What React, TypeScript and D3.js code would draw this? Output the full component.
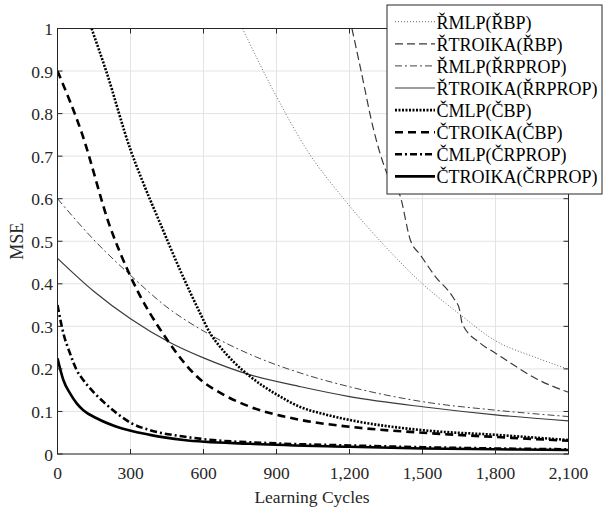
import React from 'react'
import * as d3 from 'd3'

// readings: [learning cycle, MSE]
const rMlpBp = [[760, 1], [900, 0.84], [1030, 0.71], [1176, 0.6], [1327, 0.5], [1500, 0.4], [1656, 0.327], [1800, 0.266], [1960, 0.228], [2100, 0.199]]
const rTroikaBp = [[1210, 1], [1244, 0.91], [1300, 0.76], [1350, 0.665], [1409, 0.605], [1450, 0.503], [1491, 0.468], [1553, 0.417], [1628, 0.366], [1652, 0.34], [1663, 0.307], [1738, 0.26], [1800, 0.237], [1875, 0.209], [1964, 0.178], [2100, 0.145]]
const rMlpRprop = [[0, 0.6], [150, 0.503], [300, 0.42], [450, 0.345], [600, 0.289], [800, 0.232], [1000, 0.19], [1200, 0.158], [1500, 0.123], [1800, 0.103], [2100, 0.088]]
const rTroikaRprop = [[0, 0.46], [150, 0.382], [300, 0.318], [456, 0.264], [600, 0.226], [792, 0.186], [1000, 0.158], [1200, 0.135], [1500, 0.111], [1800, 0.092], [2100, 0.078]]
const cMlpBp = [[140, 1], [200, 0.9], [300, 0.715], [346, 0.646], [422, 0.542], [504, 0.432], [586, 0.331], [627, 0.284], [668, 0.252], [723, 0.217], [792, 0.182], [900, 0.14], [1000, 0.11], [1100, 0.093], [1200, 0.08], [1500, 0.056], [1800, 0.045], [2100, 0.033]]
const cTroikaBp = [[0, 0.9], [100, 0.754], [216, 0.534], [298, 0.42], [456, 0.264], [573, 0.182], [680, 0.14], [792, 0.111], [1000, 0.08], [1200, 0.064], [1500, 0.05], [1800, 0.04], [2100, 0.031]]
const cMlpRprop = [[0, 0.35], [24, 0.284], [51, 0.237], [79, 0.197], [106, 0.174], [147, 0.146], [188, 0.123], [243, 0.096], [305, 0.072], [380, 0.056], [518, 0.041], [600, 0.035], [900, 0.025], [1200, 0.02], [1500, 0.016], [1800, 0.013], [2100, 0.011]]
const cTroikaRprop = [[0, 0.225], [24, 0.174], [51, 0.143], [79, 0.119], [106, 0.103], [161, 0.084], [243, 0.064], [380, 0.045], [518, 0.033], [792, 0.024], [1200, 0.017], [1500, 0.013], [1800, 0.011], [2100, 0.0095]]

const seriesNames = ['ŘMLP(ŘBP)', 'ŘTROIKA(ŘBP)', 'ŘMLP(ŘRPROP)', 'ŘTROIKA(ŘRPROP)', 'ČMLP(ČBP)', 'ČTROIKA(ČBP)', 'ČMLP(ČRPROP)', 'ČTROIKA(ČRPROP)']
const seriesData = [rMlpBp, rTroikaBp, rMlpRprop, rTroikaRprop, cMlpBp, cTroikaBp, cMlpRprop, cTroikaRprop]

const xTicks = [0, 300, 600, 900, 1200, 1500, 1800, 2100]
const yTicks = [0, 0.1, 0.2, 0.3, 0.4, 0.5, 0.6, 0.7, 0.8, 0.9, 1]

const styles = [
  {stroke: '#666', width: 1, dash: '1,2'},
  {stroke: '#3a3a3a', width: 1.2, dash: '8,4'},
  {stroke: '#444', width: 1, dash: '7,3,2,3'},
  {stroke: '#3a3a3a', width: 1.2, dash: null},
  {stroke: '#000', width: 2.6, dash: '2,1.5'},
  {stroke: '#000', width: 2.6, dash: '8,5'},
  {stroke: '#000', width: 2.6, dash: '7,3,2,3'},
  {stroke: '#000', width: 2.6, dash: null},
]

export default function App() {
  const width = 603, height = 510
  const left = 57.5, right = 568.5, top = 28.5, bottom = 454

  const x = d3.scaleLinear().domain([0, 2100]).range([left, right])
  const y = d3.scaleLinear().domain([0, 1]).range([bottom, top])

  const line = d3.line<number[]>()
    .x(d => x(d[0]))
    .y(d => y(d[1]))
    .curve(d3.curveMonotoneX)

  const font = '"Liberation Serif", "Times New Roman", serif'
  const axisColor = '#262626'
  const legX = 387, legY = 5, legW = 215, legH = 189

  return (
    <svg width={width} height={height} style={{position: 'absolute', left: 0, top: 0, background: '#fff'}}>
      <defs>
        <clipPath id="plot">
          <rect x={left} y={top} width={right - left} height={bottom - top} />
        </clipPath>
      </defs>
      <rect x={0} y={0} width={width} height={height} fill="#fff" />

      {/* grid */}
      {xTicks.map((t, i) => (
        <line key={'gx' + i} x1={x(t)} x2={x(t)} y1={top} y2={bottom} stroke="#e3e3e3" strokeWidth={1} />
      ))}
      {yTicks.map((t, i) => (
        <line key={'gy' + i} x1={left} x2={right} y1={y(t)} y2={y(t)} stroke="#e3e3e3" strokeWidth={1} />
      ))}

      {/* curves */}
      <g clipPath="url(#plot)">
        {seriesData.map((d, i) => (
          <path
            key={i}
            d={line(d) || ''}
            fill="none"
            stroke={styles[i].stroke}
            strokeWidth={styles[i].width}
            strokeDasharray={styles[i].dash || undefined}
          />
        ))}
      </g>

      {/* box and ticks */}
      <rect x={left} y={top} width={right - left} height={bottom - top} fill="none" stroke={axisColor} strokeWidth={1} />
      {xTicks.map((t, i) => (
        <g key={'tx' + i}>
          <line x1={x(t)} x2={x(t)} y1={bottom} y2={bottom - 5} stroke={axisColor} />
          <line x1={x(t)} x2={x(t)} y1={top} y2={top + 5} stroke={axisColor} />
          <text x={x(t)} y={479} textAnchor="middle" fontFamily={font} fontSize={17.5} fill={axisColor}>
            {d3.format(',')(t)}
          </text>
        </g>
      ))}
      {yTicks.map((t, i) => (
        <g key={'ty' + i}>
          <line x1={left} x2={left + 5} y1={y(t)} y2={y(t)} stroke={axisColor} />
          <line x1={right} x2={right - 5} y1={y(t)} y2={y(t)} stroke={axisColor} />
          <text x={53} y={y(t) + 6.5} textAnchor="end" fontFamily={font} fontSize={17.5} fill={axisColor}>
            {String(t)}
          </text>
        </g>
      ))}

      <text x={312} y={503} textAnchor="middle" fontFamily={font} fontSize={17.5} fill={axisColor}>Learning Cycles</text>
      <text transform={`translate(23,${(top + bottom) / 2}) rotate(-90)`} textAnchor="middle" fontFamily={font} fontSize={18} fill={axisColor}>MSE</text>

      {/* legend */}
      <rect x={legX} y={legY} width={legW} height={legH} fill="#fff" stroke={axisColor} strokeWidth={1} />
      {seriesNames.map((name, i) => {
        const ly = 21.7 + i * 22.1
        return (
          <g key={'lg' + i}>
            <line x1={395} x2={435} y1={ly} y2={ly}
              stroke={styles[i].stroke}
              strokeWidth={styles[i].width}
              strokeDasharray={styles[i].dash || undefined} />
            <text x={436.5} y={ly + 7} fontFamily={font} fontSize={18} fill="#000">{name}</text>
          </g>
        )
      })}
    </svg>
  )
}
